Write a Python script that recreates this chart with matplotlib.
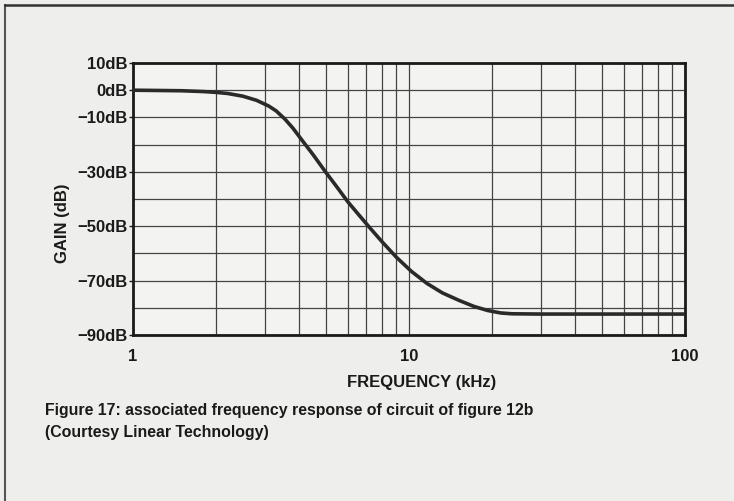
import matplotlib
matplotlib.use("Agg")
import matplotlib.pyplot as plt
from matplotlib.lines import Line2D
from matplotlib.ticker import FixedLocator, NullFormatter

plt.rcParams['font.family'] = ['Liberation Sans', 'DejaVu Sans']

# frequency response (kHz, dB)
freq = [1.0, 1.5, 1.8, 2.0, 2.2, 2.5, 2.8, 3.1, 3.3, 3.55, 3.8, 4.14, 4.5, 4.98, 5.5, 6.0,
        6.6, 7.2, 8.0, 9.0, 10.2, 11.6, 13.2, 15.2, 17.2, 19.3, 21.5, 23.6, 30, 50, 100]
gain = [0.0, -0.2, -0.5, -0.8, -1.2, -2.2, -3.7, -5.8, -7.6, -10.6, -14.0, -19.0, -23.8, -30.0, -35.8, -41.0,
        -46.0, -50.5, -55.8, -61.4, -66.6, -71.0, -74.5, -77.3, -79.5, -81.0, -81.9, -82.2, -82.3, -82.3, -82.3]

y_labelled = [10, 0, -10, -30, -50, -70, -90]
y_grid = [10, 0, -10, -20, -30, -40, -50, -60, -70, -80, -90]
x_labelled = [1, 10, 100]
x_grid = [2, 3, 4, 5, 6, 7, 8, 9, 20, 30, 40, 50, 60, 70, 80, 90]

caption = "Figure 17: associated frequency response of circuit of figure 12b\n(Courtesy Linear Technology)"

bg = '#eeeeec'
ink = '#1a1a1a'

fig = plt.figure(figsize=(7.34, 5.01), dpi=100, facecolor=bg)
ax = fig.add_axes([133/734, 1-335/501, 552/734, 272/501])
ax.set_facecolor('#f3f3f1')

ax.semilogx(freq, gain, color='#2a2a2a', lw=2.6, solid_capstyle='round', zorder=3)

ax.set_xlim(1, 100)
ax.set_ylim(-90, 10)

ax.yaxis.set_major_locator(FixedLocator(y_labelled))
ax.set_yticklabels([f"{v}dB".replace('-', '\u2212') for v in y_labelled])
ax.yaxis.set_minor_locator(FixedLocator(y_grid))
ax.xaxis.set_major_locator(FixedLocator(x_labelled))
ax.set_xticklabels([str(v) for v in x_labelled])
ax.xaxis.set_minor_locator(FixedLocator(x_grid))
ax.xaxis.set_minor_formatter(NullFormatter())

ax.grid(True, which='both', color='#444444', lw=0.9)
ax.tick_params(axis='y', which='major', length=3, width=1, color=ink, labelsize=12, pad=1, labelcolor=ink)
ax.tick_params(axis='y', which='minor', length=0)
ax.tick_params(axis='x', which='both', length=0, labelsize=12, pad=10, labelcolor=ink)
for lab in ax.get_xticklabels() + ax.get_yticklabels():
    lab.set_fontweight('bold')
for s in ax.spines.values():
    s.set_linewidth(2)
    s.set_color(ink)

ax.set_xlabel("FREQUENCY (kHz)", fontsize=12, fontweight='bold', color=ink)
ax.xaxis.set_label_coords(0.522, -0.148)
ax.set_ylabel("GAIN (dB)", fontsize=12, fontweight='bold', color=ink)
ax.yaxis.set_label_coords(-0.115, 0.41)

fig.text(45/734, 1-403/501, caption, fontsize=11.4, fontweight='bold', color=ink,
         va='top', ha='left', linespacing=1.55)

# page frame of the scan
fig.add_artist(Line2D([5/734, 5/734], [0, 1-5/501], color='#555555', lw=1.5))
fig.add_artist(Line2D([5/734, 1], [1-5/501, 1-5/501], color='#333333', lw=1.8))

fig.savefig("out.png", dpi=100, facecolor=bg)
